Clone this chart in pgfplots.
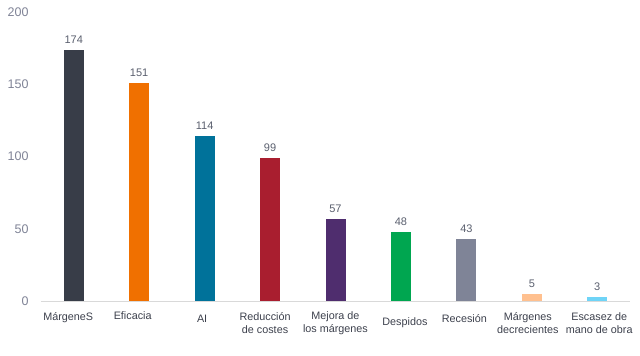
\documentclass[border=0pt]{standalone}
\usepackage{pgfplots}
\pgfplotsset{compat=1.18}
\usepackage{fontspec}
\setmainfont{Liberation Sans}
\definecolor{c1}{HTML}{383D48}
\definecolor{c2}{HTML}{F07000}
\definecolor{c3}{HTML}{00729A}
\definecolor{c4}{HTML}{A91E2F}
\definecolor{c5}{HTML}{4F2D6E}
\definecolor{c6}{HTML}{00A650}
\definecolor{c7}{HTML}{7F8497}
\definecolor{c8}{HTML}{FFC08F}
\definecolor{c9}{HTML}{6FD4F7}
\definecolor{tickgray}{HTML}{7F8396}
\definecolor{valgray}{HTML}{5A5F6E}
\definecolor{labgray}{HTML}{3C404C}
\newcommand{\sh}[1]{\hspace*{#1}}
\begin{document}
\begin{tikzpicture}
\path[use as bounding box] (-41bp,-55bp) rectangle (599bp,301bp);
\begin{axis}[
  scale only axis,
  width=589bp, height=289bp,
  xmin=-0.5, xmax=8.5, ymin=0, ymax=200,
  axis x line*=bottom, axis y line*=left,
  x axis line style={draw=black!15, line width=0.8pt},
  y axis line style={draw=none},
  ytick={0,50,100,150,200},
  xtick={0,1,2,3,4,5,6,7,8},
  xticklabels={
    \raisebox{12bp}{\sh{-11bp}MárgeneS},
    \raisebox{14bp}{\sh{-13bp}Eficacia},
    \raisebox{8bp}{\sh{-5bp}AI},
    \sh{-10bp}Reducción\\\sh{-10bp}de costes,
    Mejora de\\los márgenes,
    \raisebox{2bp}{\sh{8bp}Despidos},
    \raisebox{8bp}{\sh{-4bp}Recesión},
    \sh{-8bp}Márgenes\\\sh{-8bp}decrecientes,
    \sh{4bp}Escasez de\\\sh{4bp}mano de obra},
  major tick length=0pt,
  xticklabel style={anchor=center, yshift=-22bp, align=center, font=\fontsize{10.8bp}{12.5bp}\selectfont, text=labgray},
  yticklabel style={xshift=-9bp, font=\fontsize{12.5bp}{14bp}\selectfont, text=tickgray},
  /pgf/number format/assume math mode=true,
  ybar, bar width=20bp, bar shift=0pt,
  nodes near coords,
  every node near coord/.append style={font=\fontsize{11bp}{13bp}\selectfont, text=valgray, yshift=3bp},
  clip=false,
]
\addplot[fill=c1, draw=none] coordinates {(0,174)};
\addplot[fill=c2, draw=none] coordinates {(1,151)};
\addplot[fill=c3, draw=none] coordinates {(2,114)};
\addplot[fill=c4, draw=none] coordinates {(3,99)};
\addplot[fill=c5, draw=none] coordinates {(4,57)};
\addplot[fill=c6, draw=none] coordinates {(5,48)};
\addplot[fill=c7, draw=none] coordinates {(6,43)};
\addplot[fill=c8, draw=none] coordinates {(7,5)};
\addplot[fill=c9, draw=none] coordinates {(8,3)};
\end{axis}
\end{tikzpicture}
\end{document}
